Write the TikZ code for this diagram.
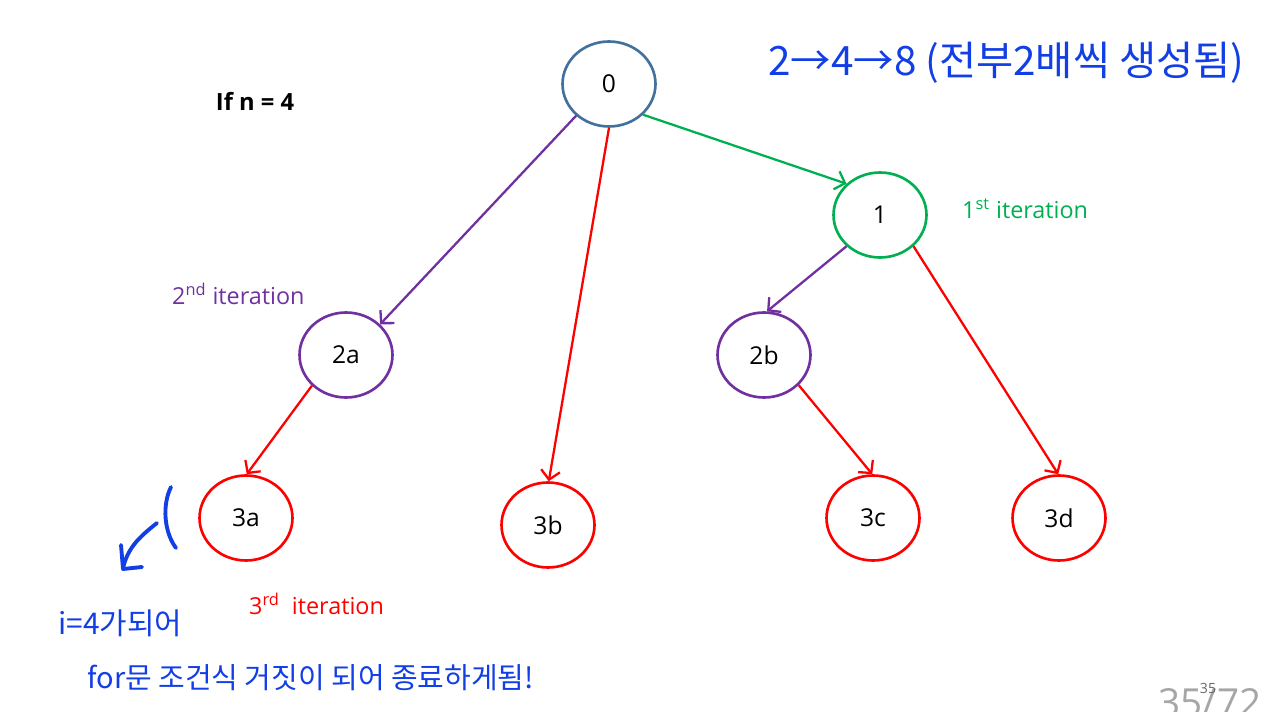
\documentclass[tikz,border=0pt]{standalone}
\usepackage{fontspec}
\setmainfont{Open Sans}
\newfontfamily\kor{Noto Sans CJK KR}
\usepackage{tikz}
\usetikzlibrary{arrows.meta,shapes.geometric}
\definecolor{zold}{HTML}{00B050}
\definecolor{lila}{HTML}{7030A0}
\definecolor{piros}{HTML}{FF0000}
\definecolor{kek}{HTML}{41719C}
\definecolor{toll}{RGB}{18,62,230}
\tikzset{
  kor/.style={ellipse,draw,line width=1.5pt,fill=white,inner sep=0pt,
    minimum width=1.86cm,minimum height=1.7cm,font=\fontsize{14}{16}\selectfont},
  nyil/.style={line width=1.3pt,-{Straight Barb[length=1.8mm,width=3.8mm]}},
  felirat/.style={font=\fontsize{13.3}{15}\selectfont,anchor=west},
  kez/.style={text=toll,font=\kor,anchor=base west,inner sep=0pt},
}
\begin{document}
\begin{tikzpicture}[x=0.02cm,y=-0.02cm]
  \clip (0,0) rectangle (1266,712);
  % nodes of the tree
  \node[kor,draw=kek] (n0) at (609,84) {0};
  \node[kor,draw=zold] (n1) at (880,215) {1};
  \node[kor,draw=lila] (n2a) at (346,355) {2a};
  \node[kor,draw=lila] (n2b) at (764,355) {2b};
  \node[kor,draw=piros] (n3a) at (246,518) {3a};
  \node[kor,draw=piros] (n3b) at (548,525) {3b};
  \node[kor,draw=piros] (n3c) at (873,518) {3c};
  \node[kor,draw=piros] (n3d) at (1059,518) {3d};
  % edges
  \draw[nyil,zold] (n0.-42) -- (n1.137);
  \draw[nyil,lila] (n0.-136) -- (n2a.42);
  \draw[nyil,piros] (n0.-90) -- (n3b.89);
  \draw[nyil,lila] (n1.-137) -- (n2b.86);
  \draw[nyil,piros] (n1.-43) -- (n3d.91);
  \draw[nyil,piros] (n2a.-138) -- (n3a.89);
  \draw[nyil,piros] (n2b.-41) -- (n3c.91);
  % labels
  \node[font=\bfseries\fontsize{13.5}{15}\selectfont] (cim) at (255,101) {If n = 4};
  \node[felirat,text=zold] (it1) at (956,209) {1\textsuperscript{st} iteration};
  \node[felirat,text=lila] (it2) at (166,294) {2\textsuperscript{nd} iteration};
  \node[felirat,text=piros] (it3) at (243,604) {3\textsuperscript{rd}\ \ iteration};
  % handwritten notes
  \node[kez,font=\kor\fontsize{23}{26}\selectfont] (jegy1) at (768,76) {2→4→8 (전부2배씩 생성됨)};
  \node[kez,font=\kor\fontsize{17}{20}\selectfont] (jegy2) at (58,634) {i=4가되어};
  \node[kez,font=\kor\fontsize{16.5}{20}\selectfont] (jegy3) at (87,688) {for문 조건식 거짓이 되어 종료하게됨!};
  \draw[toll,line width=2.2pt,line cap=round,line join=round]
    (171,487) .. controls (162,505) and (164,532) .. (176,548);
  \draw[toll,line width=2.2pt,line cap=round,line join=round]
    (157,523) .. controls (138,538) and (128,548) .. (123,568)
    (121,545) -- (123,569) -- (142,567);
  % page number
  \node[text=black!35,font=\fontsize{22}{22}\selectfont,anchor=base] (oldal) at (1210,716) {35/72};
  \node[text=black!60,font=\fontsize{8}{9}\selectfont] (kis) at (1208,688) {35};
\end{tikzpicture}
\end{document}
